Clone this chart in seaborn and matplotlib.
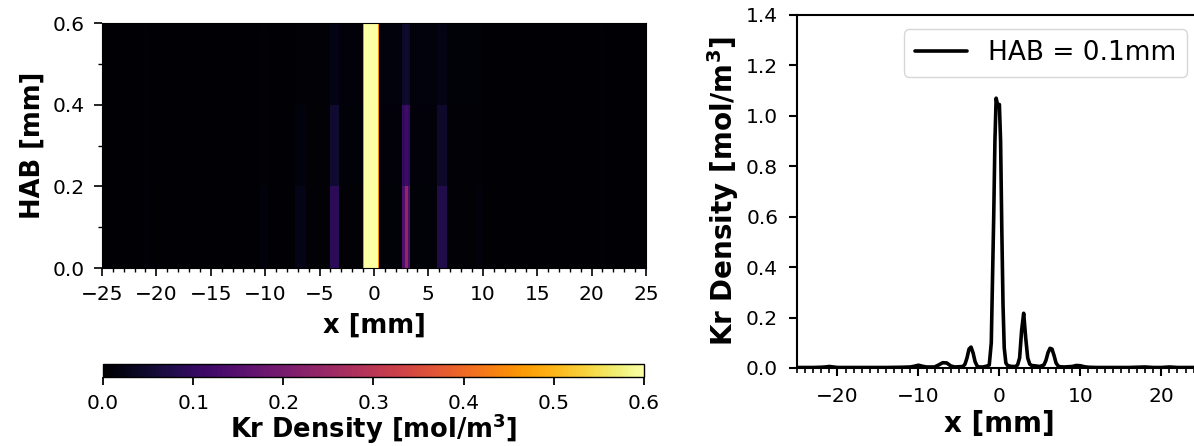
import numpy as np
import matplotlib
matplotlib.use("Agg")
import matplotlib.pyplot as plt
from matplotlib.ticker import MultipleLocator
import seaborn as sns

# ---- data -------------------------------------------------------------
# 1-D profile at HAB = 0.1 mm
line_x = [-25, -23, -22, -21.5, -21, -20.5, -20, -18, -16, -14, -12, -11,
          -10.5, -10, -9.5, -9, -8, -7.5, -7, -6.5, -6, -5.5, -5, -4.5,
          -4.25, -4, -3.75, -3.5, -3.25, -3, -2.75, -2.5, -2, -1.75, -1.5,
          -1.25, -1.0, -0.85, -0.7, -0.55, -0.4, -0.2, 0.0, 0.15, 0.3, 0.45,
          0.6, 0.8, 1.0, 1.25, 1.5, 2, 2.25, 2.5, 2.75, 3, 3.25, 3.5, 3.75,
          4, 4.5, 5, 5.5, 5.75, 6, 6.25, 6.5, 6.75, 7, 7.25, 7.5, 8, 9, 9.5,
          10, 10.5, 11, 12, 14, 16, 18, 19, 20, 21, 22, 23, 25]
line_y = [0.002, 0.002, 0.003, 0.004, 0.006, 0.004, 0.002, 0.002, 0.002,
          0.002, 0.003, 0.004, 0.007, 0.011, 0.007, 0.004, 0.004, 0.012,
          0.021, 0.02, 0.008, 0.004, 0.005, 0.006, 0.015, 0.04, 0.075, 0.083,
          0.06, 0.025, 0.008, 0.004, 0.004, 0.006, 0.008, 0.012, 0.1, 0.35,
          0.6, 0.9, 1.07, 1.04, 1.045, 0.9, 0.55, 0.25, 0.08, 0.02, 0.01,
          0.008, 0.006, 0.006, 0.012, 0.04, 0.15, 0.217, 0.12, 0.04, 0.015,
          0.01, 0.008, 0.006, 0.012, 0.03, 0.06, 0.078, 0.075, 0.05, 0.02,
          0.008, 0.005, 0.004, 0.006, 0.01, 0.009, 0.005, 0.003, 0.002,
          0.002, 0.002, 0.004, 0.002, 0.002, 0.004, 0.002, 0.002, 0.002]

# 2-D map: cell edges along x [mm] and along HAB [mm]
map_x_edges = [-25, -21.25, -20.75, -10.5, -9.75, -7.25, -6.25, -4.0, -3.25,
               -1.0, -0.9, 0.4, 0.5, 2.6, 2.85, 3.1, 3.35, 5.8, 6.75, 9.5,
               9.9, 20.75, 21.1, 25]
map_hab_edges = [0.0, 0.2, 0.4, 0.6]
map_row_hab01 = [0.004, 0.01, 0.004, 0.012, 0.004, 0.025, 0.006, 0.09, 0.006,
                 0.45, 1.0, 0.45, 0.008, 0.14, 0.24, 0.14, 0.008, 0.075,
                 0.005, 0.012, 0.004, 0.006, 0.004]
map_row_hab03 = [0.004, 0.006, 0.004, 0.006, 0.004, 0.012, 0.006, 0.05,
                 0.008, 0.45, 1.0, 0.45, 0.01, 0.1, 0.12, 0.1, 0.01, 0.045,
                 0.005, 0.006, 0.004, 0.01, 0.004]
map_row_hab05 = [0.004, 0.005, 0.004, 0.005, 0.004, 0.006, 0.006, 0.022, 0.01,
                 0.45, 1.0, 0.45, 0.012, 0.045, 0.05, 0.045, 0.012, 0.022,
                 0.008, 0.005, 0.004, 0.005, 0.004]
cbar_ticks = [0.0, 0.1, 0.2, 0.3, 0.4, 0.5, 0.6]
legend_label = "HAB = 0.1mm"

# ---- style -----------------------------------------------------------
sns.set_style("ticks")
plt.rcParams["font.family"] = ["DejaVu Sans"]
plt.rcParams["mathtext.default"] = "regular"
for k in ["axes.edgecolor", "axes.labelcolor", "text.color",
          "xtick.color", "ytick.color"]:
    plt.rcParams[k] = "black"

TICK_FS = 14.5
LABEL_L = 18.5
LABEL_R = 20
PAD = 7.5

fig = plt.figure(figsize=(11.94, 4.46), dpi=100)

# left: map
ax1 = fig.add_axes([0.0854, 0.399, 0.4556, 0.549])
Z = np.array([map_row_hab01, map_row_hab03, map_row_hab05])
mesh = ax1.pcolormesh(map_x_edges, map_hab_edges, Z, cmap="inferno",
                      vmin=0, vmax=0.6, shading="flat")
ax1.set_xlim(-25, 25)
ax1.set_ylim(0, 0.6)
ax1.set_xticks(np.arange(-25, 26, 5))
ax1.set_yticks([0.0, 0.2, 0.4, 0.6])
ax1.xaxis.set_minor_locator(MultipleLocator(1))
ax1.yaxis.set_minor_locator(MultipleLocator(0.1))
ax1.tick_params(which="major", length=6, width=1.2, labelsize=TICK_FS,
                pad=PAD - 1)
ax1.tick_params(which="minor", length=3, width=1.0)
ax1.set_xlabel("x [mm]", fontsize=LABEL_L, fontweight="bold", labelpad=6)
ax1.set_ylabel("HAB [mm]", fontsize=LABEL_L, fontweight="bold", labelpad=5)
for s in ax1.spines.values():
    s.set_linewidth(0.8)

# colorbar
cax = fig.add_axes([0.0863, 0.1547, 0.453, 0.029])
cb = fig.colorbar(mesh, cax=cax, orientation="horizontal", ticks=cbar_ticks)
cb.ax.tick_params(length=6, width=1.3, labelsize=TICK_FS, pad=6)
cb.outline.set_linewidth(1.0)
cb.set_label("Kr Density [mol/m$^3$]", fontsize=LABEL_L, fontweight="bold",
             labelpad=-1)

# right: line profile
ax2 = fig.add_axes([0.6675, 0.1749, 0.339, 0.7915])
sns.lineplot(x=line_x, y=line_y, color="black", linewidth=2.6,
             label=legend_label, ax=ax2)
ax2.set_xlim(-25, 25)
ax2.set_ylim(0, 1.4)
ax2.set_xticks([-20, -10, 0, 10, 20])
ax2.set_yticks(np.arange(0, 1.41, 0.2))
ax2.xaxis.set_minor_locator(MultipleLocator(1))
ax2.tick_params(which="major", length=6, width=1.5, labelsize=TICK_FS,
                pad=PAD)
ax2.tick_params(which="minor", length=3.5, width=1.2)
for s in ax2.spines.values():
    s.set_linewidth(1.5)
ax2.set_xlabel("x [mm]", fontsize=LABEL_R, fontweight="bold", labelpad=3)
ax2.set_ylabel("Kr Density [mol/m$^3$]", fontsize=LABEL_R, fontweight="bold",
               labelpad=4)
leg = ax2.legend(loc="upper right", fontsize=19, handlelength=2.0,
                 frameon=True, fancybox=True, borderaxespad=0.55)
for h in leg.get_lines():
    h.set_linewidth(2.6)

fig.savefig("out.png", dpi=100)
